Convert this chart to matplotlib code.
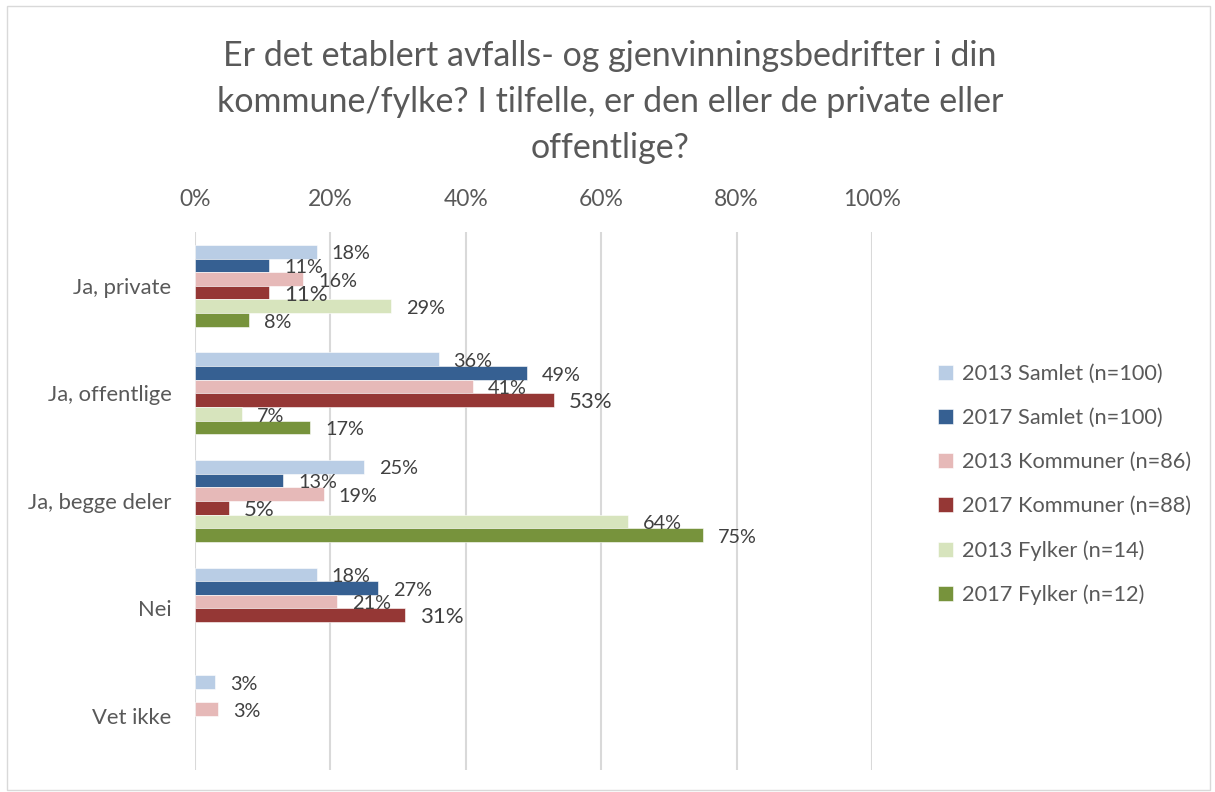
import numpy as np
import matplotlib.pyplot as plt
from matplotlib.patches import Rectangle

plt.rcParams['font.family'] = ['Lato', 'DejaVu Sans']

# --- data ---
categories = ['Ja, private', 'Ja, offentlige', 'Ja, begge deler', 'Nei', 'Vet ikke']
series = ['2013 Samlet (n=100)', '2017 Samlet (n=100)', '2013 Kommuner (n=86)',
          '2017 Kommuner (n=88)', '2013 Fylker (n=14)', '2017 Fylker (n=12)']
samlet_2013 = [18, 36, 25, 18, 3]
samlet_2017 = [11, 49, 13, 27, np.nan]
kommuner_2013 = [16, 41, 19, 21, 3.4]
kommuner_2017 = [11, 53, 5, 31, np.nan]
fylker_2013 = [29, 7, 64, np.nan, np.nan]
fylker_2017 = [8, 17, 75, np.nan, np.nan]
values = [samlet_2013, samlet_2017, kommuner_2013, kommuner_2017, fylker_2013, fylker_2017]
colors = ['#B9CDE5', '#366092', '#E6B9B8', '#953735', '#D7E4BD', '#77933C']
label_sizes = [14.3, 14.3, 14.3, 16, 14.3, 14.3]

fig = plt.figure(figsize=(12.15, 7.92), dpi=100)
ax = fig.add_axes([0.1605, 0.028, 0.5572, 0.679])

y = np.arange(len(categories))
h = 0.127
for j, (vals, col) in enumerate(zip(values, colors)):
    pos = y + (j - 2.5) * h
    ax.barh(pos, vals, height=h, color=col, edgecolor='white', linewidth=0.4,
            label=series[j], zorder=3)
    for p, v in zip(pos, vals):
        if np.isnan(v):
            continue
        ax.text(v + 2.2, p + 0.02, f'{v:.0f}%', va='center', ha='left',
                fontsize=label_sizes[j], color='#404040', zorder=4)

ax.set_xlim(0, 100)
ax.set_ylim(len(categories) - 0.5, -0.5)
ax.set_xticks(range(0, 101, 20))
ax.set_xticklabels([f'{t}%' for t in range(0, 101, 20)])
ax.xaxis.tick_top()
ax.tick_params(axis='x', length=0, pad=16, labelsize=16.5, labelcolor='#595959')
ax.set_yticks(y)
ax.set_yticklabels(categories)
ax.tick_params(axis='y', length=0, pad=17, labelsize=15.8, labelcolor='#595959')
ax.grid(axis='x', color='#D9D9D9', linewidth=1.5, zorder=0)
for s in ax.spines.values():
    s.set_visible(False)

fig.text(0.502, 0.871, 'Er det etablert avfalls- og gjenvinningsbedrifter i din\n'
         'kommune/fylke? I tilfelle, er den eller de private eller\noffentlige?',
         ha='center', va='center', fontsize=24.5, color='#595959', linespacing=1.55)

ax.legend(loc='center left', bbox_to_anchor=(1.068, 0.53), frameon=False,
          fontsize=15.7, labelcolor='#595959', handlelength=0.7, handleheight=0.7,
          handletextpad=0.4, labelspacing=1.1)

fig.patches.append(Rectangle((0.006, 0.003), 0.99, 0.99, transform=fig.transFigure,
                             fill=False, edgecolor='#D9D9D9', linewidth=1))

fig.savefig('out.png', dpi=100)
